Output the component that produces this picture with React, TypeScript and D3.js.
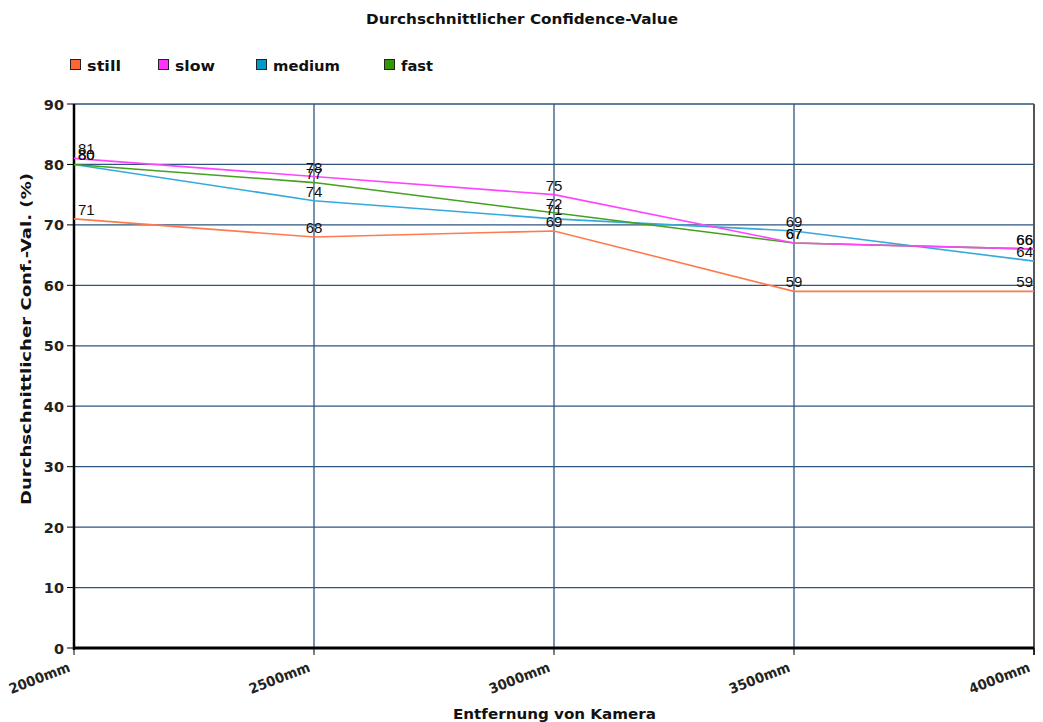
import React from "react";
import * as d3 from "d3";

const categories = ["2000mm", "2500mm", "3000mm", "3500mm", "4000mm"];
const seriesNames = ["still", "slow", "medium", "fast"];
const stillValues = [71, 68, 69, 59, 59];
const slowValues = [81, 78, 75, 67, 66];
const mediumValues = [80, 74, 71, 69, 64];
const fastValues = [80, 77, 72, 67, 66];
const yTicks = [0, 10, 20, 30, 40, 50, 60, 70, 80, 90];

const lineColors = ["#ff7a4d", "#ff44ff", "#33aadd", "#44a020"];
const legendColors = ["#ff6633", "#ff33ff", "#0099cc", "#339900"];
// stacking order of the lines: slow ends up on top where it meets fast
const drawOrder = [0, 2, 3, 1];

const W = 1043;
const H = 722;
const left = 74;
const right = 1034;
const top = 104;
const bottom = 648;

export default function App() {
  const x = d3.scalePoint<string>().domain(categories).range([left, right]);
  const y = d3.scaleLinear().domain([0, 90]).range([bottom, top]);
  const allValues = [stillValues, slowValues, mediumValues, fastValues];
  const line = d3
    .line<number>()
    .x((_, i) => x(categories[i]) as number)
    .y((d) => y(d));

  const font = "'Liberation Sans', Arial, sans-serif";
  const boldFont = "'DejaVu Sans', 'Liberation Sans', sans-serif";
  const legendX = [70, 158, 256, 384];
  const legendLen = [34, 40, 67, 32];

  return (
    <svg
      width={W}
      height={H}
      style={{ position: "absolute", left: 0, top: 0, background: "#fff" }}
      fontFamily={font}
    >
      <text
        x={522}
        y={24}
        textAnchor="middle"
        fontSize={14}
        fontFamily={boldFont}
        fontWeight="bold"
        fill="#111"
        textLength={312}
        lengthAdjust="spacingAndGlyphs"
      >
        Durchschnittlicher Confidence-Value
      </text>

      {seriesNames.map((name, i) => (
        <g key={name} transform={`translate(${legendX[i]},59)`}>
          <rect x={0.5} y={0.5} width={10} height={10} fill={legendColors[i]} stroke="#222" strokeWidth={1} />
          <text
            x={17}
            y={11.5}
            fontSize={14.5}
            fontFamily={boldFont}
            fontWeight="bold"
            fill="#111"
            textLength={legendLen[i]}
            lengthAdjust="spacingAndGlyphs"
          >
            {name}
          </text>
        </g>
      ))}

      {/* horizontal grid */}
      {yTicks.map((t) => (
        <line key={`h${t}`} x1={left} x2={right} y1={y(t)} y2={y(t)} stroke="#2f5480" strokeWidth={1.3} />
      ))}
      {/* vertical grid */}
      {categories.slice(1, -1).map((c) => (
        <line key={`v${c}`} x1={x(c)} x2={x(c)} y1={top} y2={bottom} stroke="#2f5480" strokeWidth={1.3} />
      ))}
      <line x1={right} x2={right} y1={top} y2={bottom + 7} stroke="#555" strokeWidth={2} />

      {/* y axis */}
      <line x1={left} x2={left} y1={top} y2={bottom + 2} stroke="#000" strokeWidth={2.5} />
      {yTicks.map((t) => (
        <g key={`yt${t}`}>
          <line x1={left - 7} x2={left} y1={y(t)} y2={y(t)} stroke="#000" strokeWidth={1} />
          <text
            x={left - 10}
            y={y(t) + 5.5}
            textAnchor="end"
            fontSize={14.5}
            fontFamily={boldFont}
            fontWeight="bold"
            fill="#222"
          >
            {t}
          </text>
        </g>
      ))}

      {/* x axis */}
      <line x1={left} x2={right} y1={bottom} y2={bottom} stroke="#000" strokeWidth={3} />
      {categories.map((c) => (
        <g key={`xt${c}`}>
          <line x1={x(c)} x2={x(c)} y1={bottom} y2={bottom + 7} stroke="#000" strokeWidth={1} />
          <text
            transform={`translate(${(x(c) as number) - 3},${bottom + 23}) rotate(-21)`}
            textAnchor="end"
            fontSize={14}
            fontFamily={boldFont}
            fontWeight="bold"
            fill="#222"
            textLength={64}
            lengthAdjust="spacingAndGlyphs"
          >
            {c}
          </text>
        </g>
      ))}

      <text
        x={554.5}
        y={719}
        textAnchor="middle"
        fontSize={14.5}
        fontFamily={boldFont}
        fontWeight="bold"
        fill="#111"
        textLength={203}
        lengthAdjust="spacingAndGlyphs"
      >
        Entfernung von Kamera
      </text>
      <text
        transform={`translate(31,339) rotate(-90)`}
        textAnchor="middle"
        fontSize={14.5}
        fontFamily={boldFont}
        fontWeight="bold"
        fill="#111"
        textLength={332}
        lengthAdjust="spacingAndGlyphs"
      >
        Durchschnittlicher Conf.-Val. (%)
      </text>

      {/* series lines */}
      {drawOrder.map((i) => (
        <path key={`l${i}`} d={line(allValues[i]) as string} fill="none" stroke={lineColors[i]} strokeWidth={1.6} />
      ))}

      {/* value labels */}
      {allValues.map((vals, i) =>
        vals.map((v, j) => {
          const px = x(categories[j]) as number;
          const anchor = j === 0 ? "start" : j === categories.length - 1 ? "end" : "middle";
          const lx = j === 0 ? px + 4 : j === categories.length - 1 ? px - 1 : px;
          return (
            <text key={`t${i}-${j}`} x={lx} y={y(v) - 4} textAnchor={anchor} fontSize={15} fill="#111">
              {v}
            </text>
          );
        })
      )}
    </svg>
  );
}
